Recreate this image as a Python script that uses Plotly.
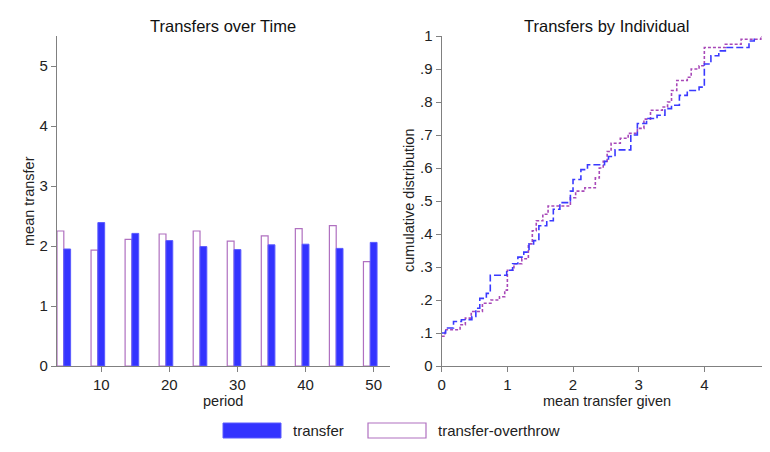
import plotly.graph_objects as go

# ---------------- data ----------------
periods = [5, 10, 15, 20, 25, 30, 35, 40, 45, 50]
transfer_mean = [1.95, 2.39, 2.21, 2.09, 1.99, 1.94, 2.02, 2.03, 1.96, 2.06]
overthrow_mean = [2.25, 1.93, 2.11, 2.20, 2.25, 2.08, 2.17, 2.29, 2.34, 1.74]

transfer_x = [0, 0.06, 0.18, 0.30, 0.46, 0.52, 0.58, 0.68, 0.74, 0.99, 1.08, 1.16, 1.25, 1.33,
              1.40, 1.48, 1.60, 1.70, 1.80, 1.96, 2.00, 2.12, 2.22, 2.48, 2.54, 2.64, 2.88,
              2.98, 3.12, 3.28, 3.40, 3.50, 3.62, 3.74, 3.92, 4.00, 4.10, 4.22, 4.32, 4.68, 4.76]
transfer_cdf = [0.10, 0.115, 0.135, 0.14, 0.15, 0.175, 0.205, 0.22, 0.275, 0.29, 0.31, 0.33, 0.345,
                0.37, 0.38, 0.425, 0.44, 0.475, 0.495, 0.53, 0.565, 0.595, 0.61, 0.62, 0.635,
                0.655, 0.70, 0.735, 0.75, 0.76, 0.78, 0.79, 0.82, 0.835, 0.845, 0.915, 0.94,
                0.955, 0.965, 0.985, 1.0]

overthrow_x = [0, 0.05, 0.28, 0.36, 0.45, 0.62, 0.75, 0.88, 0.96, 1.00, 1.10, 1.22, 1.32, 1.38,
               1.44, 1.54, 1.62, 1.96, 2.04, 2.18, 2.34, 2.40, 2.46, 2.52, 2.58, 2.72, 2.84,
               2.98, 3.08, 3.18, 3.36, 3.44, 3.50, 3.58, 3.74, 3.80, 3.92, 4.00, 4.32, 4.56,
               4.86, 4.92]
overthrow_cdf = [0.09, 0.11, 0.125, 0.145, 0.165, 0.19, 0.20, 0.21, 0.23, 0.29, 0.31, 0.325, 0.37,
                 0.41, 0.44, 0.46, 0.485, 0.51, 0.53, 0.54, 0.57, 0.60, 0.62, 0.65, 0.675, 0.69,
                 0.705, 0.72, 0.748, 0.775, 0.785, 0.80, 0.835, 0.865, 0.875, 0.90, 0.91, 0.965,
                 0.975, 0.99, 1.0, 1.0]

series_names = ["transfer", "transfer-overthrow"]
left_yticks = [0, 1, 2, 3, 4, 5]
left_xticks = [10, 20, 30, 40, 50]
right_xticks = [0, 1, 2, 3, 4, 5]
right_yticks = [0, 0.1, 0.2, 0.3, 0.4, 0.5, 0.6, 0.7, 0.8, 0.9, 1]
right_yticklabels = ["0", ".1", ".2", ".3", ".4", ".5", ".6", ".7", ".8", ".9", "1"]

BLUE = "#3333ff"
BLUE_EDGE = "#5a5aff"
PURPLE = "#b070c0"
PURPLE_LINE = "#a848b8"
AXIS = "#808080"
FONT = "Liberation Sans, Arial, sans-serif"

# the page body adds an 8px margin; the figure fills the rest of the 770x452 window
OFF = 8
W, H = 770 - OFF, 452 - OFF

def px(x):
    return min(1.0, (x - OFF) / W)

def py(y):
    return 1 - (y - OFF) / H

fig = go.Figure()

# bars
fig.add_trace(go.Bar(x=periods, y=overthrow_mean, width=1, offset=-1.5,
                     marker=dict(color="white", line=dict(color=PURPLE, width=1.2)),
                     name=series_names[1], showlegend=False, xaxis="x", yaxis="y"))
fig.add_trace(go.Bar(x=periods, y=transfer_mean, width=1, offset=-0.5,
                     marker=dict(color=BLUE, line=dict(color=BLUE_EDGE, width=1)),
                     name=series_names[0], showlegend=False, xaxis="x", yaxis="y"))

# ecdfs
fig.add_trace(go.Scatter(x=overthrow_x, y=overthrow_cdf, mode="lines", line_shape="hv",
                         line=dict(color=PURPLE_LINE, width=1.6, dash="3px,2px"),
                         showlegend=False, xaxis="x2", yaxis="y2"))
fig.add_trace(go.Scatter(x=transfer_x, y=transfer_cdf, mode="lines", line_shape="hv",
                         line=dict(color="#3a3aff", width=1.6, dash="7px,3px"),
                         showlegend=False, xaxis="x2", yaxis="y2"))

ydom = [py(366), py(36)]
axis_common = dict(showgrid=False, zeroline=False, showline=True, linecolor=AXIS, linewidth=1.2,
                   ticks="outside", ticklen=5, tickcolor=AXIS, tickwidth=1,
                   tickfont=dict(family=FONT, size=15, color="#222"), automargin=False,
                   ticklabeloverflow="allow")

fig.update_layout(
    width=W, height=H,
    margin=dict(l=0, r=0, t=0, b=0),
    paper_bgcolor="white", plot_bgcolor="white",
    barmode="overlay",
    showlegend=False,
    xaxis=dict(domain=[px(57), px(390)], range=[3.5, 52.4], tickvals=left_xticks,
               anchor="y", **axis_common),
    yaxis=dict(domain=ydom, range=[0, 5.5], tickvals=left_yticks, anchor="x", **axis_common),
    xaxis2=dict(domain=[px(441.7), px(771)], range=[0, 5], tickvals=right_xticks,
                anchor="y2", **axis_common),
    yaxis2=dict(domain=ydom, range=[0, 1], tickvals=right_yticks, ticktext=right_yticklabels,
                anchor="x2", **axis_common),
)

ann_font = dict(family=FONT, size=14.5, color="#222")
title_font = dict(family=FONT, size=16.5, color="#111")
anns = [
    dict(text="Transfers over Time", x=px(223.5), y=py(26), font=title_font),
    dict(text="Transfers by Individual", x=px(606), y=py(26), font=title_font),
    dict(text="period", x=px(223), y=py(401), font=ann_font),
    dict(text="mean transfer given", x=px(607), y=py(401), font=ann_font),
    dict(text="mean transfer", x=px(29), y=py(201), font=ann_font, textangle=-90),
    dict(text="cumulative distribution", x=px(409), y=py(201), font=ann_font, textangle=-90),
    dict(text=series_names[0], x=px(291), y=py(430), font=dict(family=FONT, size=15, color="#222"),
         xanchor="left"),
    dict(text=series_names[1], x=px(436), y=py(430), font=dict(family=FONT, size=15, color="#222"),
         xanchor="left"),
]
for a in anns:
    a.setdefault("xanchor", "center")
    fig.add_annotation(xref="paper", yref="paper", yanchor="middle", showarrow=False, **a)

# legend swatches
fig.add_shape(type="rect", xref="paper", yref="paper", x0=px(223), x1=px(281), y0=py(438), y1=py(423),
              fillcolor=BLUE, line=dict(color=BLUE_EDGE, width=1))
fig.add_shape(type="rect", xref="paper", yref="paper", x0=px(368), x1=px(426), y0=py(438), y1=py(423),
              fillcolor="white", line=dict(color=PURPLE, width=1.2))

fig.write_html("out.html")
